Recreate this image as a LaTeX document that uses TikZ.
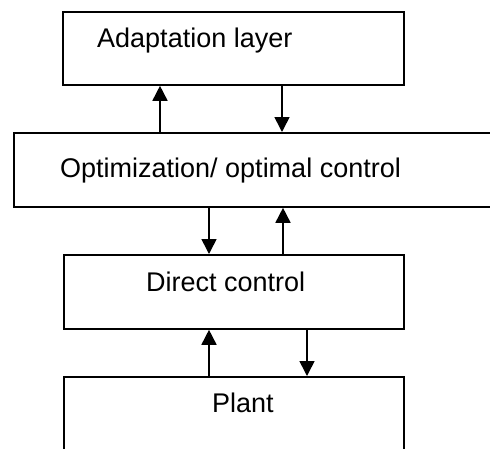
\documentclass[tikz,border=0pt]{standalone}
\usepackage{fontspec}
\setmainfont{Liberation Sans}
\usetikzlibrary{arrows.meta,positioning}
\tikzset{
  layer/.style={rectangle,draw,line width=1.8pt,anchor=north west,inner sep=0pt},
  ttl/.style={anchor=base west,inner sep=0pt,font=\fontsize{27}{30}\selectfont},
  arr/.style={-{Triangle[length=15pt,width=15pt]},line width=1.6pt}
}

\begin{document}
\begin{tikzpicture}[x=1pt,y=-1pt]
  \useasboundingbox (0,0) rectangle (490,448);
  \node[layer,minimum width=341pt,minimum height=73pt] (adapt) at (62,11) {};
  \node[layer,minimum width=490pt,minimum height=74pt] (opt) at (13,132) {};
  \node[layer,minimum width=340pt,minimum height=74pt] (direct) at (63,254) {};
  \node[layer,minimum width=340pt,minimum height=90pt] (plant) at (63,376) {};
  \node[ttl] (adapttxt) at (97,47) {Adaptation layer};
  \node[ttl] (opttxt) at (60,177) {Optimization/ optimal control};
  \node[ttl] (directtxt) at (146,291) {Direct control};
  \node[ttl] (planttxt) at (212,412) {Plant};
  \draw[arr] (opt.north -| 160,0) -- (adapt.south -| 160,0);
  \draw[arr] (adapt.south -| 282,0) -- (opt.north -| 282,0);
  \draw[arr] (opt.south -| 209,0) -- (direct.north -| 209,0);
  \draw[arr] (direct.north -| 283,0) -- (opt.south -| 283,0);
  \draw[arr] (plant.north -| 209,0) -- (direct.south -| 209,0);
  \draw[arr] (direct.south -| 307,0) -- (plant.north -| 307,0);
\end{tikzpicture}
\end{document}
